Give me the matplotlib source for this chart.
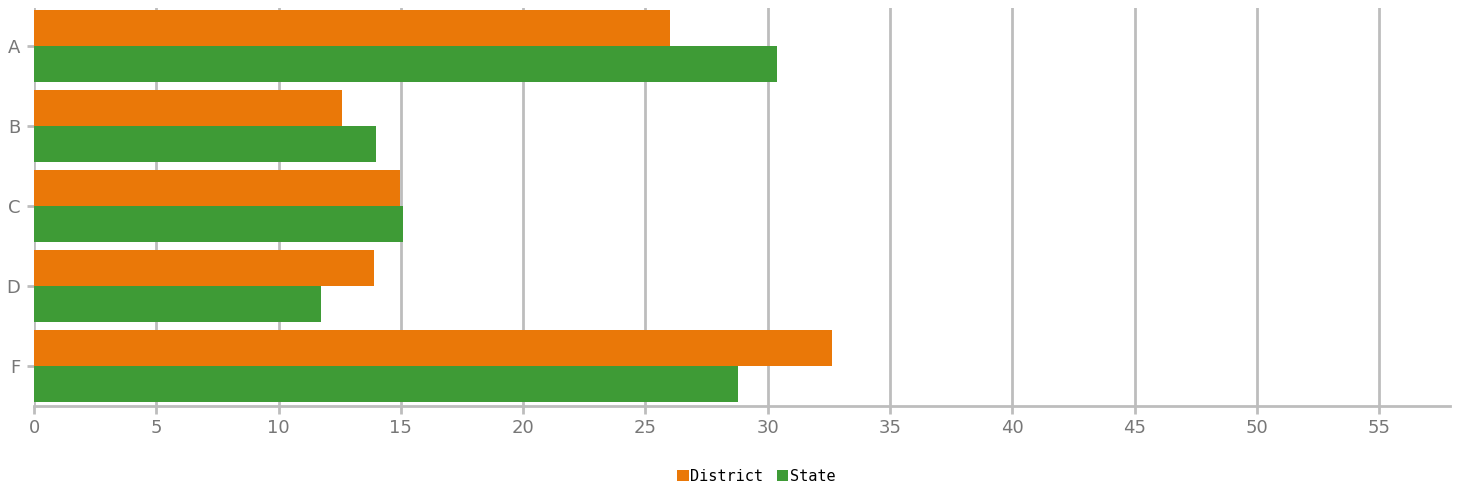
import numpy as np
import matplotlib.pyplot as plt

# --- data
categories = ["A", "B", "C", "D", "F"]
district = [26.0, 12.6, 14.95, 13.9, 32.65]
state = [30.4, 14.0, 15.1, 11.75, 28.8]

orange = "#EA7808"
green = "#3E9B36"
grid_c = "#BDBDBD"
text_c = "#777777"

fig = plt.figure(figsize=(14.6, 4.88), dpi=100)
ax = fig.add_axes([34 / 1460, 1 - 406 / 488, (1450 - 34) / 1460, (406 - 8) / 488])

y = np.arange(len(categories))
h = 0.45
ax.barh(y - h / 2, district, height=h, color=orange, label="District", zorder=3)
ax.barh(y + h / 2, state, height=h, color=green, label="State", zorder=3)

ax.set_xlim(0, 57.9)
ax.set_ylim(4.5, -0.475)
ax.set_xticks(np.arange(0, 56, 5))
ax.set_yticks(y)
ax.set_yticklabels(categories)

ax.grid(axis="x", color=grid_c, linewidth=2, zorder=0)
for s in ["top", "right", "left"]:
    ax.spines[s].set_visible(False)
ax.spines["bottom"].set_color(grid_c)
ax.spines["bottom"].set_linewidth(2)
ax.tick_params(axis="x", colors=grid_c, labelcolor=text_c, labelsize=13, length=6, width=2)
ax.tick_params(axis="y", colors=grid_c, labelcolor=text_c, labelsize=13, length=5, width=2, pad=5)

fig.legend(loc="lower center", bbox_to_anchor=(0.518, -0.02), ncol=2, frameon=False,
           prop={"family": "DejaVu Sans Mono", "size": 11},
           handlelength=0.75, handleheight=0.75, handletextpad=0.1, columnspacing=0.9)

fig.savefig("out.png", dpi=100)
